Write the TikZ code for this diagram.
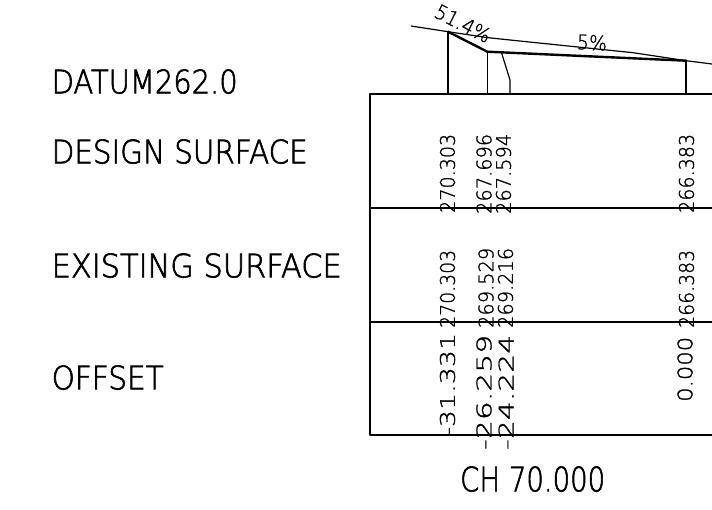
\documentclass[tikz,border=0pt]{standalone}
\usepackage{fontspec}
\setmainfont{DejaVu Sans ExtraLight}
\newfontface\isolabel{DejaVu Sans ExtraLight}[FakeBold=2]
\newfontface\isonum{DejaVu Sans ExtraLight}[FakeBold=1.2]
\usepackage{graphicx}
\newcommand{\isotxt}[3]{\resizebox{#1pt}{#2pt}{#3}}
\begin{document}
\begin{tikzpicture}[x=1pt,y=-1pt,
  thinln/.style={line width=1.2pt, line join=round},
  thickln/.style={line width=2.4pt, line join=round, line cap=round},
  lbl/.style={inner sep=0pt, anchor=south west, font=\isolabel},
  vnum/.style={inner sep=0pt, rotate=90, anchor=west, font=\isonum},
  slopelbl/.style={inner sep=0pt, font=\isonum}]
\useasboundingbox (0,0) rectangle (712,510);

% left labels
\node[lbl] (datum)  at (51.5,94)  {\isotxt{186}{24}{DATUM262.0}};
\node[lbl] (design) at (51.5,164) {\isotxt{256}{24}{DESIGN SURFACE}};
\node[lbl] (exist)  at (51.5,278) {\isotxt{290}{24}{EXISTING SURFACE}};
\node[lbl] (offset) at (51.5,390) {\isotxt{112}{24}{OFFSET}};
\node[lbl] (ch)     at (460,492)  {\isotxt{145}{25}{CH 70.000}};

% table
\coordinate (tTR) at (712,94);  \coordinate (tTL) at (370,94);
\coordinate (tBL) at (370,435); \coordinate (tBR) at (712,435);
\coordinate (r1L) at (370,208); \coordinate (r1R) at (712,208);
\coordinate (r2L) at (370,322); \coordinate (r2R) at (712,322);
\draw[thinln] (tTR) -- (tTL) -- (tBL) -- (tBR);
\draw[thinln] (r1L) -- (r1R);
\draw[thinln] (r2L) -- (r2R);

% profile points
\coordinate (g0) at (411,26);
\coordinate (g1) at (448,31.7);
\coordinate (g2) at (487.3,37.6);
\coordinate (g3) at (510,40);
\coordinate (g4) at (633,52.7);
\coordinate (g5) at (655,56);
\coordinate (g6) at (686,60.7);
\coordinate (g7) at (712,64);
\coordinate (d2) at (487.3,51.7);
\coordinate (dk) at (501.7,53.3);
\coordinate (dk2) at (510,80);
% bottoms on table top
\coordinate (b1) at (448,94);
\coordinate (b2) at (487.3,94);
\coordinate (b3) at (510,94);
\coordinate (b4) at (686,94);

\draw[thinln] (g0) -- (g1) -- (g2) -- (g3) -- (g4) -- (g5) -- (g6) -- (g7);
\draw[thickln] (g1) -- (d2) -- (g6);
\draw[thinln] (g1) -- (b1);
\draw[thinln] (d2) -- (b2);
\draw[thinln] (dk) -- (dk2) -- (b3);
\draw[thinln] (g6) -- (b4);

% slope labels
\node[slopelbl, rotate=-27] (s1) at (463,23.5) {\isotxt{60}{15}{51.4\%}};
\node[slopelbl, rotate=-3] (s2) at (592,42.5) {\isotxt{30}{15}{5\%}};

% design surface
\node[vnum] (ds1) at (447.5,213) {\isotxt{79}{15}{270.303}};
\node[vnum] (ds2) at (484,214)   {\isotxt{80}{15}{267.696}};
\node[vnum] (ds3) at (503.5,214) {\isotxt{80}{15}{267.594}};
\node[vnum] (ds4) at (686.5,213) {\isotxt{79}{15}{266.383}};
% existing surface
\node[vnum] (es1) at (447.5,328) {\isotxt{78}{15}{270.303}};
\node[vnum] (es2) at (486,328)   {\isotxt{80}{15}{269.529}};
\node[vnum] (es3) at (505.5,328) {\isotxt{80}{15}{269.216}};
\node[vnum] (es4) at (686.5,328) {\isotxt{78}{15}{266.383}};
% offset
\node[vnum] (of1) at (447.5,437) {\isotxt{104}{15}{-31.331}};
\node[vnum] (of2) at (484,450)   {\isotxt{115}{15}{-26.259}};
\node[vnum] (of3) at (506,450)   {\isotxt{115}{15}{-24.224}};
\node[vnum] (of4) at (685,402)   {\isotxt{65}{15}{0.000}};
\end{tikzpicture}
\end{document}
